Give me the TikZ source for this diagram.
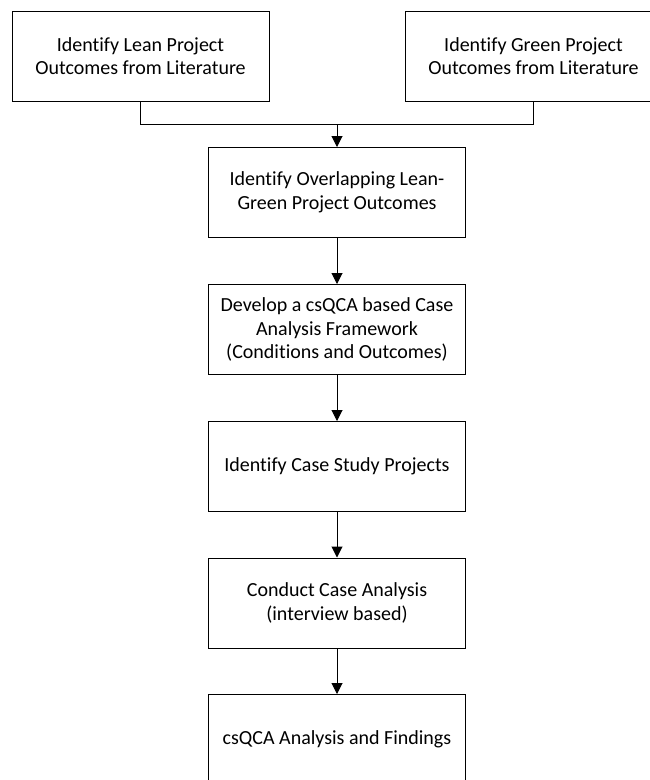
\documentclass[tikz,border=0pt]{standalone}
\usepackage{fontspec}
\setmainfont[Ligatures={NoCommon}]{Carlito}
\usetikzlibrary{arrows.meta,positioning}

\tikzset{
	stage/.style={draw, line width=1pt, minimum width=257pt, minimum height=90pt, align=center, inner sep=2pt,
		font=\fontsize{20}{23.5}\selectfont},
	flow/.style={line width=1pt, -{Triangle[width=11pt,length=11pt]}}
}

\begin{document}
\begin{tikzpicture}[x=1pt,y=-1pt]
		\useasboundingbox (0,0) rectangle (650,780);
		\draw (140.5,56) node [stage] (lean) {Identify Lean Project\\Outcomes from Literature};
		\draw (533.5,56) node [stage] (green) {Identify Green Project\\Outcomes from Literature};
		\draw (337,192.5) node [stage] (overlap) {Identify Overlapping Lean-\\Green Project Outcomes};
		\draw (337,329.5) node [stage] (frame) {Develop a csQCA based Case\\Analysis Framework\\(Conditions and Outcomes)};
		\draw (337,466.5) node [stage] (study) {Identify Case Study Projects};
		\draw (337,603) node [stage] (conduct) {Conduct Case Analysis\\(interview based)};
		\draw (337,739.5) node [stage] (findings) {csQCA Analysis and Findings};
		\coordinate (join) at (337,124);
		\draw[line width=1pt] (lean.south) |- (join);
		\draw[line width=1pt] (green.south) |- (join);
		\draw[flow] (join) -- (overlap);
		\path[flow]
			(overlap) edge (frame)
			(frame) edge (study)
			(study) edge (conduct)
			(conduct) edge (findings);
	\end{tikzpicture}
\end{document}
